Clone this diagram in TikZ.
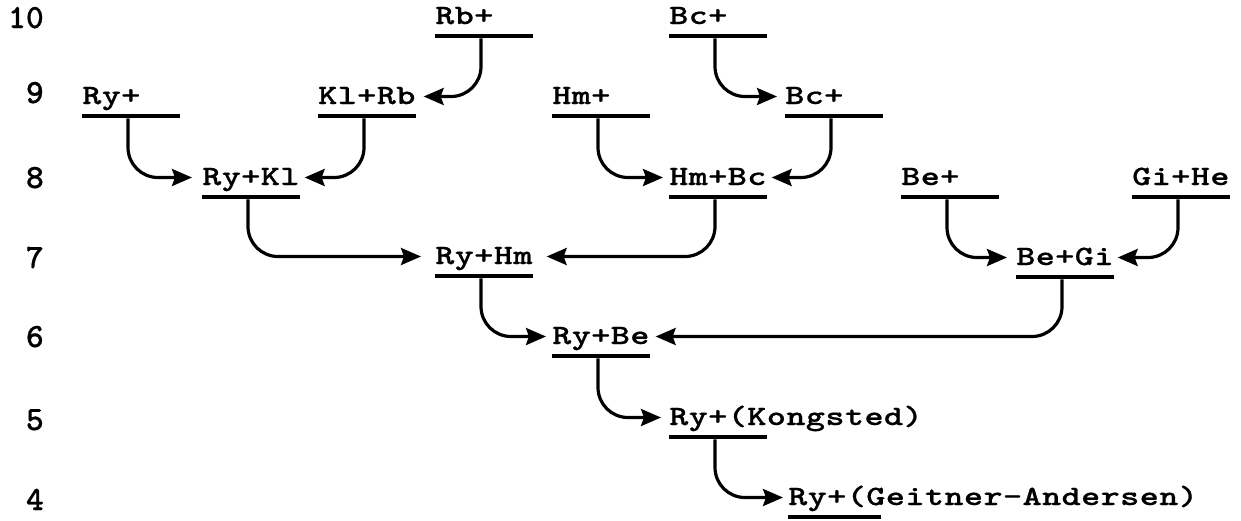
\documentclass[tikz,border=0pt]{standalone}
\usepackage{fontspec}
\newfontfamily\tw[FakeStretch=1.3,LetterSpace=1.5,FakeBold=0.6]{lmmonolt10-bold.otf}
\newfontfamily\twnum[FakeBold=0.6]{lmmonolt10-bold.otf}
\usetikzlibrary{arrows.meta}
\begin{document}
\begin{tikzpicture}[x=1pt,y=-1pt,
  lbl/.style={anchor=base west,inner sep=0pt,text height=15pt,text depth=0pt,
    font=\tw\fontsize{28}{28}\selectfont},
  bar/.style={anchor=west,fill=black,draw=none,inner sep=0pt,
    minimum width=98pt,minimum height=4.5pt},
  conn/.style={line width=3.2pt,rounded corners=30pt,
    -{Stealth[length=20pt,width=17pt,inset=3pt]}},
  rownum/.style={anchor=base east,inner sep=0pt,
    font=\twnum\fontsize{34}{34}\selectfont}]
\useasboundingbox (0,0) rectangle (1241,520);

% row numbers
\node[rownum] (r10) at (44,28)  {10};
\node[rownum] (r9)  at (44,103) {9};
\node[rownum] (r8)  at (44,188) {8};
\node[rownum] (r7)  at (44,268) {7};
\node[rownum] (r6)  at (44,347) {6};
\node[rownum] (r5)  at (44,430) {5};
\node[rownum] (r4)  at (44,510) {4};

% row 10
\node[bar] (bRb)  at (435,36) {};  \node[lbl] (tRb)  at (435,24) {Rb+};
\node[bar] (bBcA) at (669,36) {};  \node[lbl] (tBcA) at (669,24) {Bc+};
% row 9
\node[bar] (bRy)   at (82,116)  {}; \node[lbl] (tRy)   at (82,104)  {Ry+};
\node[bar] (bKlRb) at (318,116) {}; \node[lbl] (tKlRb) at (318,104) {Kl+Rb};
\node[bar] (bHm)   at (552,116) {}; \node[lbl] (tHm)   at (552,104) {Hm+};
\node[bar] (bBcB)  at (785,116) {}; \node[lbl] (tBcB)  at (785,104) {Bc+};
% row 8
\node[bar] (bRyKl) at (202,197)  {}; \node[lbl] (tRyKl) at (202,185)  {Ry+Kl};
\node[bar] (bHmBc) at (669,197)  {}; \node[lbl] (tHmBc) at (669,185)  {Hm+Bc};
\node[bar] (bBe)   at (901,197)  {}; \node[lbl] (tBe)   at (901,185)  {Be+};
\node[bar] (bGiHe) at (1132,197) {}; \node[lbl] (tGiHe) at (1132,185) {Gi+He};
% row 7
\node[bar] (bRyHm) at (435,276)  {}; \node[lbl] (tRyHm) at (435,264)  {Ry+Hm};
\node[bar] (bBeGi) at (1016,277) {}; \node[lbl] (tBeGi) at (1016,265) {Be+Gi};
% row 6
\node[bar] (bRyBe) at (552,356) {}; \node[lbl] (tRyBe) at (552,344) {Ry+Be};
% row 5
\node[bar] (bKong) at (669,437) {}; \node[lbl] (tKong) at (669,425) {Ry+(Kongsted)};
% row 4
\node[bar,minimum width=93pt] (bGeit) at (788,517) {};
\node[lbl] (tGeit) at (788,505) {Ry+(Geitner-Andersen)};

% connectors
\draw[conn] ([xshift=46pt]bRb.south west)   |- ([xshift=8pt]tKlRb.east);
\draw[conn] ([xshift=46pt]bBcA.south west)  |- ([xshift=-8pt]tBcB.west);
\draw[conn] ([xshift=46pt]bRy.south west)   |- ([xshift=-10pt]tRyKl.west);
\draw[conn] ([xshift=46pt]bKlRb.south west) |- ([xshift=5pt]tRyKl.east);
\draw[conn] ([xshift=46pt]bHm.south west)   |- ([xshift=-6pt]tHmBc.west);
\draw[conn] ([xshift=46pt]bBcB.south west)  |- ([xshift=5pt]tHmBc.east);
\draw[conn] ([xshift=46pt]bRyKl.south west) |- ([xshift=-14pt]tRyHm.west);
\draw[conn] ([xshift=46pt]bHmBc.south west) |- ([xshift=14pt]tRyHm.east);
\draw[conn] ([xshift=46pt]bBe.south west)   |- ([xshift=-9pt]tBeGi.west);
\draw[conn] ([xshift=46pt]bGiHe.south west) |- ([xshift=4pt]tBeGi.east);
\draw[conn] ([xshift=46pt]bRyHm.south west) |- ([xshift=-6pt]tRyBe.west);
\draw[conn] ([xshift=46pt]bBeGi.south west) |- ([xshift=6pt]tRyBe.east);
\draw[conn] ([xshift=46pt]bRyBe.south west) |- ([xshift=-8pt]tKong.west);
\draw[conn] ([xshift=46pt]bKong.south west) |- ([xshift=-5pt]tGeit.west);
\end{tikzpicture}
\end{document}
